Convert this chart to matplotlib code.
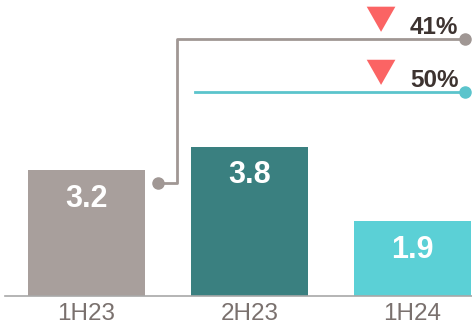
import matplotlib.pyplot as plt
from matplotlib.patches import Polygon

plt.rcParams["font.family"] = ["Liberation Sans", "DejaVu Sans"]

periods = ["1H23", "2H23", "1H24"]
values = [3.2, 3.8, 1.9]
bar_colors = ["#a89f9c", "#3a8080", "#5bd0d6"]
changes = ["41%", "50%"]
line_colors = ["#a09794", "#5bc4cc"]

fig = plt.figure(figsize=(4.72, 3.26), dpi=100)
ax = fig.add_axes([0, 0, 1, 1])
ax.set_xlim(-0.531, 2.365)
ax.set_ylim(-0.763, 7.53)
ax.axis("off")

width = 0.718
ax.bar(range(len(values)), values, width=width, color=bar_colors, zorder=2)
ax.plot([-0.5, 2.4], [0, 0], color="#a8a8a8", lw=1.2, zorder=3)

for i, (p, v) in enumerate(zip(periods, values)):
    ax.text(i, v - 0.72, f"{v:.1f}", ha="center", va="center",
            color="white", fontsize=22, fontweight="bold", zorder=4)
    ax.text(i, -0.45, p, ha="center", va="center",
            color="#7a716e", fontsize=17.5)

# connector from 1H23 to the top change marker
x_start = 0.439
x_bend = 0.555
x_end = 2.322
y_top = 6.54
ax.plot([x_start, x_bend, x_bend, x_end], [2.88, 2.88, y_top, y_top],
        color=line_colors[0], lw=2, zorder=1)
ax.plot([x_start, x_end], [2.88, y_top], "o", color=line_colors[0],
        ms=8, zorder=5)

# connector for 2H23
y_mid = 5.19
ax.plot([0.666, x_end], [y_mid, y_mid], color=line_colors[1], lw=2, zorder=1)
ax.plot([x_end], [y_mid], "o", color=line_colors[1], ms=8, zorder=5)

# down arrows with percentage change
tri_x = 1.807
half_w = 0.088
for y_line, label in zip([y_top, y_mid], changes):
    top = y_line + 0.82
    bottom = y_line + 0.18
    ax.add_patch(Polygon([[tri_x - half_w, top], [tri_x + half_w, top],
                          [tri_x, bottom]], closed=True,
                         color="#fb6464", lw=0, zorder=5))
    ax.text(1.985, y_line + 0.3, label, ha="left", va="center",
            color="#3d3330", fontsize=17.5, fontweight="bold")

fig.savefig("out.png", dpi=100)
